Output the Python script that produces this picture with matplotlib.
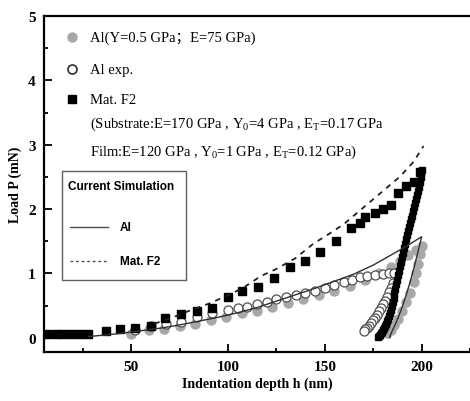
import matplotlib
matplotlib.use("Agg")
import matplotlib.pyplot as plt
from matplotlib.patches import Rectangle
from matplotlib.lines import Line2D
from matplotlib.ticker import MultipleLocator

plt.rcParams['font.family'] = 'Liberation Serif'
plt.rcParams['mathtext.fontset'] = 'custom'
plt.rcParams['mathtext.rm'] = 'Liberation Serif'
plt.rcParams['mathtext.default'] = 'regular'

# Al simulation points (gray filled): loading then unloading
al_h = [50, 59, 67, 75, 83, 91, 99, 107, 115, 123, 131, 139, 147, 155, 163, 171,
        178, 184, 189, 193, 197, 200,
        199, 198, 197, 196, 194, 192, 190, 188, 186, 184, 182]
al_p = [0.06, 0.12, 0.14, 0.18, 0.22, 0.28, 0.33, 0.38, 0.42, 0.48, 0.54, 0.60, 0.66, 0.73, 0.80, 0.90,
        1.00, 1.10, 1.20, 1.28, 1.36, 1.42,
        1.30, 1.15, 1.00, 0.87, 0.70, 0.55, 0.42, 0.30, 0.20, 0.12, 0.07]

# Al experiment (open circles)
exp_h = [52, 60, 68, 76, 84, 92, 100, 105, 110, 115, 120, 125, 130, 135, 140, 145,
         150, 155, 160, 164, 168, 172, 176, 180, 183, 186,
         185, 184, 183, 182, 181, 180, 179, 178, 177, 176, 175, 174, 173, 172, 171, 170]
exp_p = [0.12, 0.18, 0.22, 0.25, 0.32, 0.38, 0.44, 0.46, 0.48, 0.52, 0.56, 0.60, 0.64, 0.67, 0.70, 0.73,
         0.78, 0.82, 0.86, 0.90, 0.94, 0.96, 0.98, 0.99, 1.00, 1.00,
         0.85, 0.78, 0.71, 0.64, 0.58, 0.52, 0.46, 0.41, 0.36, 0.31, 0.27, 0.23, 0.19, 0.16, 0.13, 0.10]

# Mat. F2 (black squares), loading
f2_h = [7, 11.5, 15.5, 19.5, 23.5, 27.5, 37, 44.5, 52, 60, 67.5, 76, 84, 92, 100,
        107.5, 115.5, 124, 132, 140, 147.5, 156, 163.5, 168, 171, 176, 180, 184,
        188, 192, 196, 199]
f2_p = [0.06, 0.06, 0.06, 0.06, 0.06, 0.06, 0.10, 0.13, 0.16, 0.19, 0.31, 0.37, 0.42, 0.47, 0.64,
        0.73, 0.79, 0.93, 1.10, 1.19, 1.33, 1.50, 1.70, 1.78, 1.87, 1.94, 2.00, 2.07,
        2.25, 2.36, 2.42, 2.58]

# Mat. F2 unloading (dense)
f2u_h = [200, 199.5, 199, 198.5, 198, 197.5, 197, 196.5, 196, 195.5, 195, 194.5, 194,
         193.5, 193, 192.5, 192, 191.5, 191, 190.5, 190, 189.5, 189, 188.5, 188,
         187.5, 187, 186.5, 186, 185.5, 185, 184.5, 184, 183.5, 183, 182.5, 182,
         181.5, 181, 180.5, 180, 179.5, 179, 178.5, 178, 177.5]
f2u_p = [2.60, 2.50, 2.42, 2.35, 2.28, 2.22, 2.16, 2.10, 2.04, 1.97, 1.90, 1.84, 1.78,
         1.72, 1.66, 1.60, 1.53, 1.46, 1.39, 1.32, 1.25, 1.18, 1.11, 1.04, 0.97,
         0.90, 0.83, 0.76, 0.69, 0.62, 0.56, 0.50, 0.44, 0.39, 0.34, 0.30, 0.26,
         0.22, 0.18, 0.15, 0.12, 0.09, 0.07, 0.05, 0.03, 0.01]

# Current simulation curves
sim_al_h = [28, 35, 45, 55, 65, 75, 85, 95, 105, 115, 125, 135, 145, 155, 165, 175, 185, 192, 200,
            199, 198, 197, 196, 195, 194, 193, 192, 191, 190, 189, 188, 187, 186, 185, 184, 183.5]
sim_al_p = [0.02, 0.04, 0.07, 0.11, 0.15, 0.20, 0.26, 0.32, 0.39, 0.47, 0.57, 0.67, 0.77, 0.88, 0.99, 1.13, 1.30, 1.42, 1.57,
            1.44, 1.32, 1.20, 1.08, 0.97, 0.86, 0.76, 0.66, 0.57, 0.48, 0.40, 0.32, 0.25, 0.18, 0.12, 0.05, 0.0]

sim_f2_h = [62, 70, 80, 90, 100, 108, 117, 125, 135, 144, 153, 160, 169, 180, 189, 196, 201]
sim_f2_p = [0.22, 0.30, 0.42, 0.53, 0.66, 0.78, 0.96, 1.07, 1.24, 1.46, 1.63, 1.77, 2.00, 2.28, 2.51, 2.74, 2.98]

fig = plt.figure(figsize=(4.70, 4.02), dpi=100)
ax = fig.add_axes([44 / 470, 49 / 402, 426 / 470, 336 / 402])

ax.plot(al_h, al_p, 'o', ms=6.5, mfc='#a8a8a8', mec='#a8a8a8', zorder=2)
ax.plot(exp_h, exp_p, 'o', ms=6.5, mfc='white', mec='#505050', mew=0.9, zorder=3)
ax.plot(f2_h, f2_p, 's', ms=5.5, color='black', zorder=4)
ax.plot(f2u_h, f2u_p, 's', ms=5, color='black', zorder=4)
ax.plot(sim_al_h, sim_al_p, '-', color='#303030', lw=1.0, zorder=5)
ax.plot(sim_f2_h, sim_f2_p, '--', color='#202020', lw=1.3, dashes=(3, 3), zorder=5)

ax.set_xlim(5, 225)
ax.set_ylim(-0.22, 5)
ax.xaxis.set_major_locator(MultipleLocator(50))
ax.xaxis.set_minor_locator(MultipleLocator(25))
ax.yaxis.set_major_locator(MultipleLocator(1))
ax.yaxis.set_minor_locator(MultipleLocator(0.5))
ax.tick_params(which='both', direction='in', width=1.3, top=False, right=False)
ax.tick_params(which='major', length=6, labelsize=11, pad=6)
ax.tick_params(which='minor', length=3)
for lab in ax.get_xticklabels() + ax.get_yticklabels():
    lab.set_fontweight('bold')
for side in ['left', 'bottom', 'top']:
    ax.spines[side].set_linewidth(1.6)
ax.spines['right'].set_visible(False)

ax.set_xlabel('Indentation depth h (nm)', fontsize=10, fontweight='bold', labelpad=2)
ax.set_ylabel('Load P (mN)', fontsize=10, fontweight='bold', labelpad=4)

# upper legend with material parameters
def fx(px):
    return (px - 44) / 426

def fy(py):
    return (353 - py) / 336

ax.plot([fx(72)], [fy(38)], 'o', ms=6.5, mfc='#a8a8a8', mec='#a8a8a8', transform=ax.transAxes)
ax.plot([fx(72)], [fy(70)], 'o', ms=6.5, mfc='white', mec='#303030', mew=1.2, transform=ax.transAxes)
ax.plot([fx(72)], [fy(100)], 's', ms=6, color='black', transform=ax.transAxes)
txt = dict(transform=ax.transAxes, fontsize=10.5, va='center', ha='left')
ax.text(fx(90), fy(38), 'Al(Y=0.5 GPa；E=75 GPa)', family=['Liberation Serif', 'Noto Sans CJK SC'], **txt)
ax.text(fx(90), fy(70), 'Al exp.', **txt)
ax.text(fx(90), fy(100), 'Mat. F2', **txt)
ax.text(fx(90), fy(124), '(Substrate:E=170 GPa , Y$_0$=4 GPa , E$_T$=0.17 GPa', **txt)
ax.text(fx(90), fy(152), 'Film:E=120 GPa , Y$_0$=1 GPa , E$_T$=0.12 GPa)', **txt)

# "Current Simulation" box
ax.add_patch(Rectangle((fx(62), fy(281)), fx(186) - fx(62), fy(172) - fy(281),
                       transform=ax.transAxes, fill=True, fc='white', ec='#606060', lw=1.0, zorder=6))
sans = dict(transform=ax.transAxes, family='Liberation Sans', va='center', ha='left', zorder=7)
ax.text(fx(68), fy(187), 'Current Simulation', fontsize=8.5, fontweight='bold', **sans)
ax.add_line(Line2D([fx(70), fx(108)], [fy(228), fy(228)], transform=ax.transAxes,
                   color='#505050', lw=1.0, zorder=7))
ax.add_line(Line2D([fx(70), fx(108)], [fy(262), fy(262)], transform=ax.transAxes,
                   color='#505050', lw=1.0, ls=(0, (2, 2)), zorder=7))
ax.text(fx(120), fy(228), 'Al', fontsize=8.5, fontweight='bold', **sans)
ax.text(fx(120), fy(262), 'Mat. F2', fontsize=8.5, fontweight='bold', **sans)

fig.savefig('out.png', dpi=100)
